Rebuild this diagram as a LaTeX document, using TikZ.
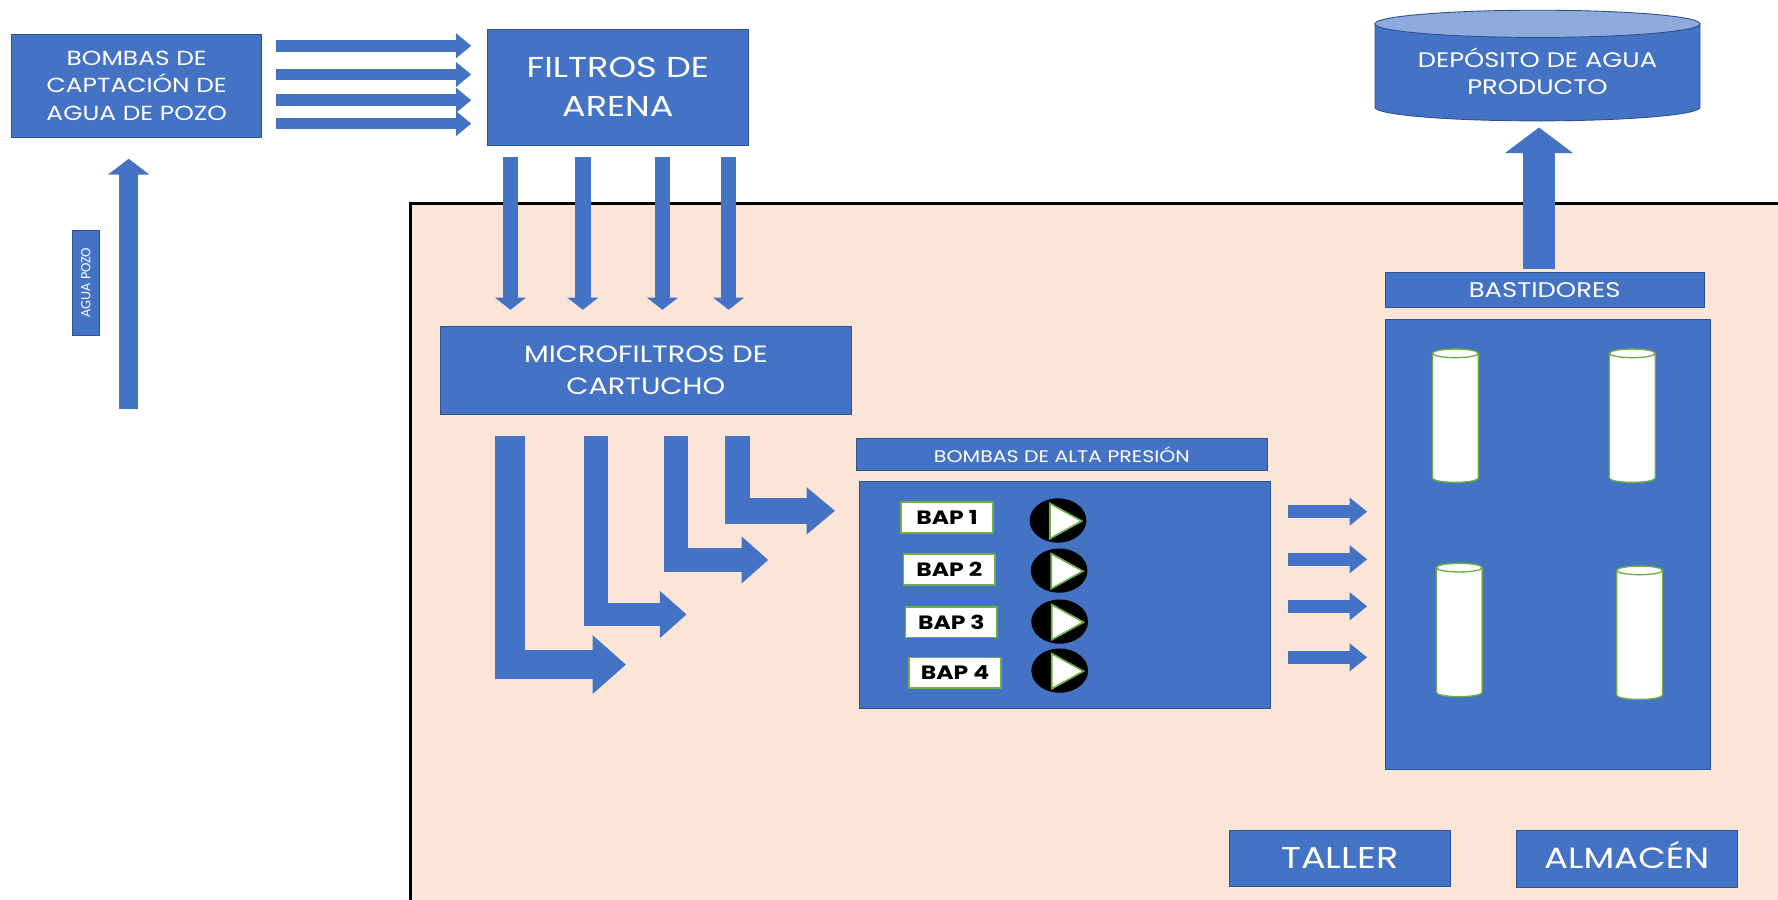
\documentclass[tikz,border=0pt]{standalone}
\usepackage{fontspec}
\setmainfont[FakeStretch=1.22]{Poppins}
\newfontfamily\calibri{Carlito}
\usepackage{tikz}
\usetikzlibrary{shapes, arrows.meta, calc}

\definecolor{azul}{HTML}{4472C4}
\definecolor{borde}{HTML}{2F528F}
\definecolor{salmon}{HTML}{FBE5D6}
\definecolor{azulclaro}{HTML}{8FAADC}
\definecolor{verde}{HTML}{70AD47}

\begin{document}
\begin{tikzpicture}[x=1pt, y=-1pt,
	caja/.style={rectangle, draw=borde, line width=0.8pt, fill=azul, text=white, align=center, inner sep=0pt},
	tanque/.style={draw=borde, line width=0.8pt, fill=azul},
	bap/.style={rectangle, draw=verde, line width=1.5pt, fill=white, text=black, inner sep=0pt, minimum width=81, minimum height=27, font=\bfseries\fontsize{17}{18}\selectfont},
	bomba/.style={ellipse, fill=black, minimum width=50, minimum height=39, inner sep=0pt},
	triang/.style={fill=white, draw=verde, line width=1.5pt},
	filtro/.style={fill=white, draw=verde, line width=1.2pt},
	recta/.style n args={3}{azul, line width=#1, -{Triangle[width=#2, length=#3]}}
]
\fill[white] (0,0) rectangle (1568,793);
\clip (0,0) rectangle (1568,793);
\draw[fill=salmon, line width=2.5pt] (1600,179.7) -- (361.9,179.7) -- (361.9,830) -- (1600,830) -- cycle;

\node[caja, minimum width=220.5, minimum height=90.7, font=\fontsize{18}{24.6}\selectfont]	(captacion)	at (120.55,75.65)	{BOMBAS DE\\CAPTACIÓN DE\\AGUA DE POZO};
\node[caja, minimum width=230.3, minimum height=102, font=\fontsize{25.4}{34.5}\selectfont]	(filtros)	at (544.85,76.9)	{FILTROS DE\\ARENA};
\node[caja, rotate=90, minimum width=92.6, minimum height=23.2, font=\calibri\fontsize{12.5}{14}\selectfont]	(aguapozo)	at (75.7,249.1)	{AGUA POZO};
\node[caja, minimum width=363, minimum height=77.4, font=\fontsize{20.8}{28}\selectfont]	(micro)	at (569.5,326.7)	{MICROFILTROS DE\\CARTUCHO};
\node[caja, minimum width=363, minimum height=27.5, font=\fontsize{14.8}{16}\selectfont]	(titulobap)	at (936.5,400.75)	{BOMBAS DE ALTA PRESIÓN};
\node[caja, minimum width=362.5, minimum height=200]	(bombas)	at (938.75,525)	{};
\node[caja, minimum width=281, minimum height=31.1, font=\fontsize{18.7}{21}\selectfont]	(bastidores)	at (1362.2,256)	{BASTIDORES};
\node[caja, minimum width=286.3, minimum height=397.7]	(rack)	at (1364.85,480.15)	{};
\node[caja, minimum width=195, minimum height=50, text height=18pt, text depth=0pt, font=\fontsize{26.5}{28}\selectfont]	(taller)	at (1181.7,757)	{TALLER};
\node[caja, minimum width=194.6, minimum height=50.5, text height=18pt, text depth=0pt, font=\fontsize{25.8}{28}\selectfont]	(almacen)	at (1434.5,757.2)	{ALMACÉN};

\draw[tanque] (1212.6,21) -- (1212.6,94.6) arc[start angle=180, end angle=0, x radius=143.3, y radius=12] -- (1499.2,21) -- cycle;
\draw[tanque, fill=azulclaro] (1355.9,21) ellipse [x radius=143.3, y radius=12];
\node[text=white, align=center, inner sep=0pt, minimum width=286.6, minimum height=85.6, font=\fontsize{18.6}{24.4}\selectfont]	(deposito)	at (1355.9,62.8)	{DEPÓSITO DE AGUA\\PRODUCTO};

\foreach \i/\bx/\by/\px/\py in {1/835.2/456.3/933/459, 2/837.2/502.2/934/503.2, 3/839/548.8/934.5/548.2, 4/842.2/593.2/934.5/591.4}
{
	\node[bap]	(bap\i)	at (\bx,\by)	{BAP \i};
	\node[bomba]	(p\i)	at (\px,\py)	{};
	\draw[triang] (p\i.center) ++(-7,-15) -- ++(28,15.5) -- ++(-28,15.5) -- cycle;
}

\foreach \cx/\cy in {1283.5/311.6, 1439.5/311.6, 1286.9/500.6, 1445.9/503}
{
	\draw[filtro] (\cx-20.2,\cy) -- (\cx-20.2,\cy+110) arc[start angle=180, end angle=0, x radius=20.2, y radius=3.8] -- (\cx+20.2,\cy) -- cycle;
	\draw[filtro] (\cx,\cy) ellipse [x radius=20.2, y radius=3.8];
}

\coordinate (fuente) at (113.5,361);
\draw[recta={17pt}{36pt}{14pt}] (fuente) -- ($(fuente |- captacion.south)+(0,18.6)$);

\foreach \y in {40.4,65.7,88.4,109}
	\draw[recta={10.3pt}{21pt}{13.3pt}] ($(captacion.east |- 0,\y)+(12.2,0)$) -- ($(filtros.west |- 0,\y)+(-13.7,0)$);

\foreach \x in {450.2,514,584.2,642.6}
	\draw[recta={13.8pt}{27pt}{10.8pt}] ($(\x,0 |- filtros.south)+(0,10.5)$) -- ($(\x,0 |- micro.north)+(0,-14.4)$);

\foreach \x/\y/\t/\w/\a/\l in {449.9/586.1/552/26pt/50pt/29.4pt, 525.3/541.9/605.5/21pt/40pt/23.5pt, 596.1/493.8/677.5/21pt/40pt/23.5pt, 650.4/450.5/736.4/22.5pt/40pt/25pt}
	\draw[recta={\w}{\a}{\l}] ($(\x,0 |- micro.south)+(0,19)$) |- (\t,\y);

\foreach \y in {451.2,493.2,534.7,579.7}
	\draw[recta={11.8pt}{24pt}{15.6pt}] ($(bombas.east |- 0,\y)+(15.3,0)$) -- ($(rack.west |- 0,\y)+(-15.6,0)$);

\draw[recta={28.8pt}{58.8pt}{22.6pt}] ($(bastidores.north)+(-5,-3)$) -- ($(deposito.south)+(1.3,6.6)$);
\end{tikzpicture}
\end{document}
